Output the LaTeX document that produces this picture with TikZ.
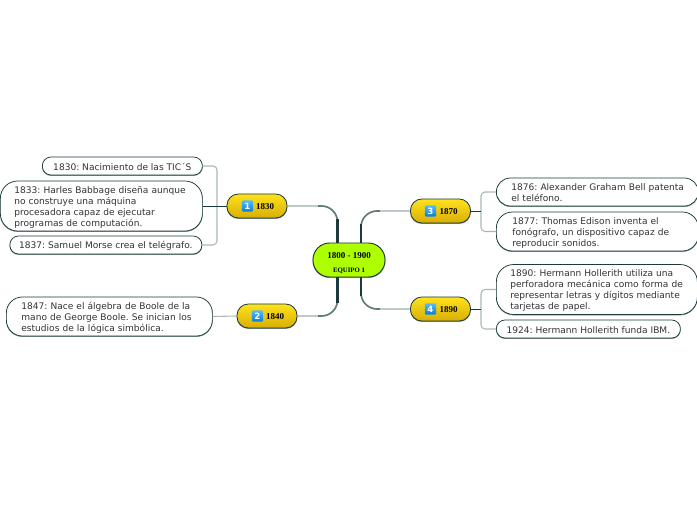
\documentclass[tikz,border=0pt]{standalone}
\usepackage{fontspec}
\setmainfont{DejaVu Sans}
\newfontfamily\titlefont{Liberation Serif}
\usetikzlibrary{shadows}
\definecolor{linedark}{HTML}{1C3A3A}
\definecolor{linemid}{HTML}{647C7A}
\definecolor{linegray}{HTML}{A9B8B6}
\definecolor{edgegray}{HTML}{7F9391}
\definecolor{rootgreen}{HTML}{AEFF00}
\definecolor{yeartop}{HTML}{FFE21C}
\definecolor{yearbottom}{HTML}{D8AE06}
\definecolor{badgetop}{HTML}{55BDFB}
\definecolor{badgebottom}{HTML}{0B7CD3}
\definecolor{textgray}{HTML}{333333}
\tikzset{
  rootbox/.style={draw=linedark,line width=0.7pt,fill=rootgreen,rounded corners=12.5pt,minimum width=54pt,minimum height=25.5pt,inner sep=0pt,align=center,font=\titlefont\bfseries,copy shadow={shadow xshift=0pt,shadow yshift=-0.4pt,draw=edgegray,fill=edgegray}},
  yearbox/.style={draw=linedark,line width=0.6pt,top color=yeartop,bottom color=yearbottom,rounded corners=8.5pt,minimum width=45pt,minimum height=18pt,inner sep=0pt,font=\fontsize{6.75}{8}\titlefont\bfseries,execute at begin node={\rule{0pt}{5.5pt}},copy shadow={shadow xshift=0pt,shadow yshift=-0.4pt,draw=edgegray,fill=edgegray}},
  badge/.style={top color=badgetop,bottom color=badgebottom,rounded corners=1pt,minimum size=8.6pt,inner sep=0pt,text=white,font=\fontsize{6.5}{7}\selectfont\bfseries},
  leaf/.style={draw=linedark,line width=0.55pt,fill=white,rounded corners=#1,anchor=west,inner xsep=0pt,inner ysep=0pt,align=left,text=textgray,font=\fontsize{6.8}{8.25}\selectfont,execute at begin node={\frenchspacing\rule{0pt}{6.7pt}},copy shadow={shadow xshift=0pt,shadow yshift=-0.4pt,draw=edgegray,fill=edgegray}},
  leaf/.default=6pt,
  thinline/.style={draw=linegray,line width=0.8pt,rounded corners=3pt},
  midline/.style={draw=linedark,line width=0.7pt},
  branchlight/.style={draw=linegray!70!edgegray,line width=1pt,rounded corners=12pt},
  branchmid/.style={draw=linemid,line width=1.2pt,rounded corners=12pt},
  branchdark/.style={draw=linedark,line width=2pt}
}
\begin{document}
\begin{tikzpicture}[x=0.75pt,y=-0.75pt]
\useasboundingbox (0,0) rectangle (697,520);
\coordinate (rootA) at (337.5,243);
\coordinate (rootB) at (361,243);
\coordinate (rootC) at (337.5,277);
\coordinate (rootD) at (361,277);
\coordinate (bendA) at (337.5,219);
\coordinate (bendB) at (361,224);
\coordinate (bendC) at (337.5,303);
\coordinate (bendD) at (361,296);
\coordinate (midA) at (318,206);
\coordinate (midB) at (380,211);
\coordinate (midC) at (318,316);
\coordinate (midD) at (380,309);
\coordinate (joinA) at (217,206);
\coordinate (joinB) at (481,211);
\coordinate (joinC) at (481,309);
\node[yearbox] (y1830) at (257,206) {\hspace{12pt}1830};
\node[yearbox] (y1840) at (267,316) {\hspace{12pt}1840};
\node[yearbox] (y1870) at (440.5,211) {\hspace{12pt}1870};
\node[yearbox] (y1890) at (440.5,309) {\hspace{12pt}1890};
\node[rootbox] (root) at (349,260) {\fontsize{6.75}{7}\selectfont\rule{0pt}{9pt}1800 - 1900\\[-1.5pt]\fontsize{5.1}{6}\selectfont EQUIPO 1};
\node[badge] (b1) at (247.5,206) {1};
\node[badge] (b2) at (257.5,316) {2};
\node[badge] (b3) at (430.5,211) {3};
\node[badge] (b4) at (430.5,309) {4};
\node[leaf=6.5pt,minimum width=120pt,minimum height=13.5pt] (t1830) at (42,166) {1830: Nacimiento de las TIC´S};
\node[leaf=13pt,text width=130.5pt,minimum height=37.5pt,inner xsep=10.5pt] (t1833) at (0,206) {1833: Harles Babbage diseña aunque\\no construye una máquina\\procesadora capaz de ejecutar\\programas de computación.};
\node[leaf=6.5pt,minimum width=144pt,minimum height=13.5pt] (t1837) at (9.5,245) {1837: Samuel Morse crea el telégrafo.};
\node[leaf=12pt,text width=132pt,minimum height=29.25pt,inner xsep=11.25pt] (t1847) at (6,316.5) {1847: Nace el álgebra de Boole de la\\mano de George Boole. Se inician los\\estudios de la lógica simbólica.};
\node[leaf=10.5pt,text width=129pt,minimum height=21pt,inner xsep=11.25pt] (t1876) at (496,192) {\mbox{1876: Alexander Graham Bell patenta}\\el teléfono.};
\node[leaf=12pt,text width=127.5pt,minimum height=29.25pt,inner xsep=12pt] (t1877) at (496,231.5) {1877: Thomas Edison inventa el\\fonógrafo, un dispositivo capaz de\\reproducir sonidos.};
\node[leaf=13pt,text width=129.75pt,minimum height=37.5pt,inner xsep=10.5pt] (t1890) at (496,289.5) {1890: Hermann Hollerith utiliza una\\perforadora mecánica como forma de\\representar letras y dígitos mediante\\tarjetas de papel.};
\node[leaf=6.5pt,minimum width=138pt,minimum height=13.5pt] (t1924) at (496,329) {1924: Hermann Hollerith funda IBM.};
\draw[branchlight] (y1830.east) -| (rootA);
\draw[branchlight] (y1840.east) -| (rootC);
\draw[branchlight] (y1870.west) -| (rootB);
\draw[branchlight] (y1890.west) -| (rootD);
\draw[branchmid] (midA) -| (rootA);
\draw[branchmid] (midC) -| (rootC);
\draw[branchmid] (midB) -| (rootB);
\draw[branchmid] (midD) -| (rootD);
\draw[branchdark] (rootA) -- (bendA);
\draw[branchdark] (rootB) -- (bendB);
\draw[branchdark] (rootC) -- (bendC);
\draw[branchdark] (rootD) -- (bendD);
\draw[thinline] (t1830.east) -| (joinA) |- (t1837.east);
\draw[thinline] (t1876.west) -| (joinB) |- (t1877.west);
\draw[thinline] (t1890.west) -| (joinC) |- (t1924.west);
\draw[thinline] (t1847.east) -- (y1840.west);
\draw[midline] (y1830.west) -- (t1833.east);
\draw[midline] (y1870.east) -- (joinB);
\draw[midline] (y1890.east) -- (joinC);
\end{tikzpicture}
\end{document}
